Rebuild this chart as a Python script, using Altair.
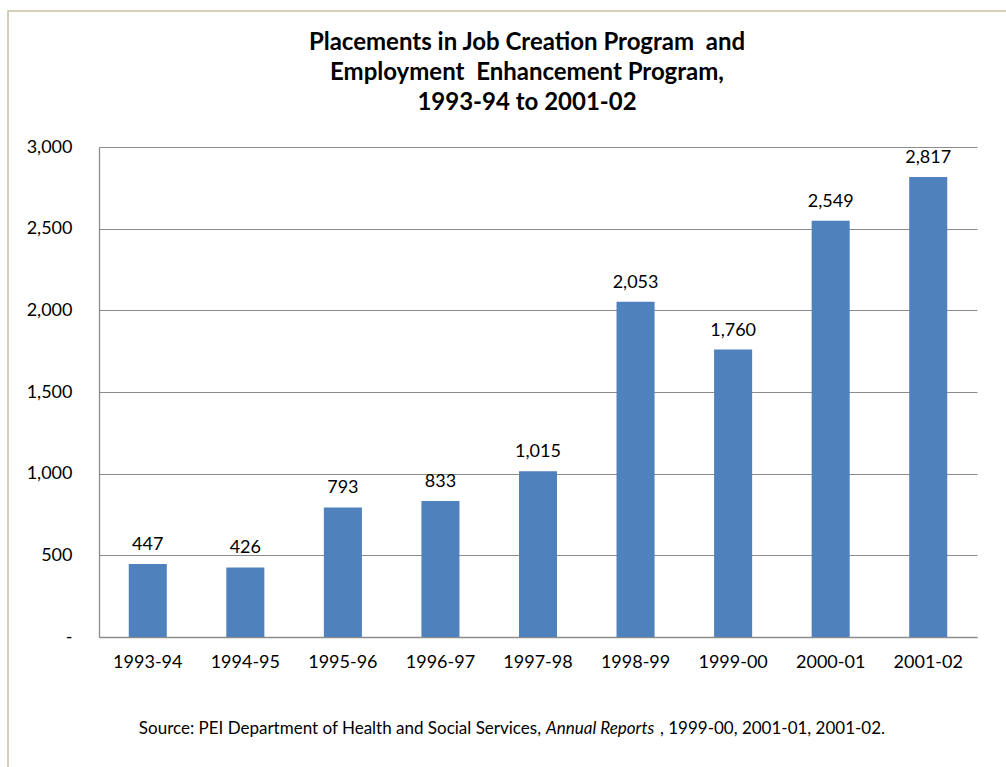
import altair as alt
import pandas as pd

years = ["1993-94", "1994-95", "1995-96", "1996-97", "1997-98",
         "1998-99", "1999-00", "2000-01", "2001-02"]
placements = [447, 426, 793, 833, 1015, 2053, 1760, 2549, 2817]

title_lines = ["Placements in Job Creation Program\u00a0 and",
               "Employment\u00a0 Enhancement Program,",
               "1993-94 to 2001-02"]
source_parts = ["Source: PEI Department of Health and Social Services,",
                "Annual Reports",
                ", 1999-00, 2001-01, 2001-02."]

df = pd.DataFrame({"year": years, "value": placements})
one = pd.DataFrame({"k": [0]})

FONT = "Lato"
W, H = 878, 490
OX, OY = 99, 147  # plot origin on the page

x_enc = alt.X("year:N", sort=years, title=None,
              scale=alt.Scale(paddingInner=0.61, paddingOuter=0.305),
              axis=alt.Axis(labelAngle=0, labelFontSize=18, labelFont=FONT,
                            labelColor="black", labelPadding=16, ticks=False,
                            domainColor="#8c8c8c", domainWidth=1.3))
y_enc = alt.Y("value:Q", title=None,
              scale=alt.Scale(domain=[0, 3000], nice=False),
              axis=alt.Axis(values=[0, 500, 1000, 1500, 2000, 2500, 3000],
                            labelExpr="datum.value == 0 ? '-\u2007' : format(datum.value, ',')",
                            labelFontSize=18, labelFont=FONT, labelColor="black",
                            labelPadding=27, ticks=False,
                            gridColor="#8c8c8c", gridWidth=1.2,
                            domainColor="#8c8c8c", domainWidth=1.3))

bars = alt.Chart(df).mark_bar(color="#4F81BD").encode(x=x_enc, y=y_enc)

labels = alt.Chart(df).mark_text(baseline="bottom", dy=-10, fontSize=18,
                                 font=FONT, color="black").encode(
    x=alt.X("year:N", sort=years),
    y="value:Q",
    text=alt.Text("value:Q", format=","))

border = alt.Chart(one).mark_rect(fill=None, stroke="#C8C0A0", strokeWidth=1.5).encode(
    x=alt.value(8 - OX), x2=alt.value(1020 - OX),
    y=alt.value(11 - OY), y2=alt.value(790 - OY))

title = alt.Chart(one).mark_text(
    text=title_lines, lineHeight=30,
    align="center", baseline="middle", fontSize=24, font=FONT, fontWeight="bold",
    color="black").encode(
    x=alt.value(527 - OX), y=alt.value(43 - OY))

src_y = 729 - OY
src1 = alt.Chart(one).mark_text(
    text=source_parts[0],
    align="right", baseline="middle", fontSize=17, font=FONT, color="black").encode(
    x=alt.value(541 - OX), y=alt.value(src_y))
src2 = alt.Chart(one).mark_text(
    text=source_parts[1],
    align="left", baseline="middle", fontSize=17, font=FONT, fontStyle="italic",
    color="black").encode(
    x=alt.value(546 - OX), y=alt.value(src_y))
src3 = alt.Chart(one).mark_text(
    text=source_parts[2],
    align="left", baseline="middle", fontSize=17, font=FONT, color="black").encode(
    x=alt.value(660 - OX), y=alt.value(src_y))

chart = alt.layer(border, bars, labels, title, src1, src2, src3).properties(
    width=W, height=H,
    autosize=alt.AutoSizeParams(type="none"),
    padding={"left": OX, "top": OY, "right": 29, "bottom": 130},
    background="white",
).configure_view(stroke=None)

chart.save("out.html", embed_options={"renderer": "svg", "actions": False})
